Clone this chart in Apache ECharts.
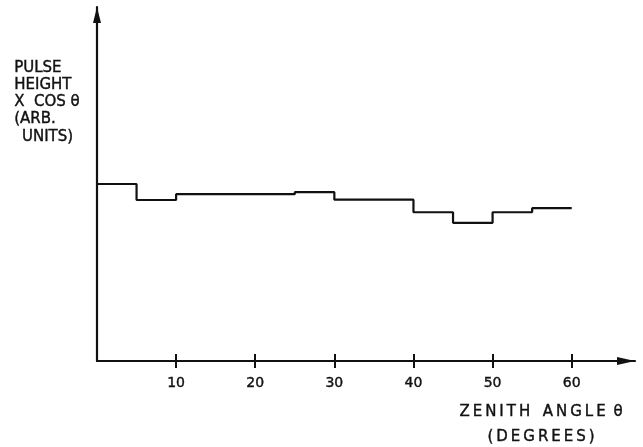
<!DOCTYPE html>
<html>
<head>
<meta charset="utf-8">
<script src="https://cdn.jsdelivr.net/npm/echarts@6/dist/echarts.min.js"></script>
<style>html,body{margin:0;padding:0;background:#fff}#c{width:643px;height:447px}</style>
</head>
<body>
<div id="c"></div>
<script>
// Data (arbitrary units)
var binEdges = [0, 5, 10, 25, 30, 40, 45, 50, 55, 60];
var heights = [52.0, 47.3, 49.0, 49.6, 47.4, 43.7, 40.6, 43.7, 44.9];
var xTicks = [10, 20, 30, 40, 50, 60];
var yLabelLines = ['PULSE', 'HEIGHT', 'X  COS θ', '(ARB.', ' \u2009UNITS)'];
var xNameLines = ['Z\u2009E\u2009N\u2009I\u2009T\u2009H  \u2009A\u2009N\u2009G\u2009L\u2009E \u2009θ', '(\u2009D\u2009E\u2009G\u2009R\u2009E\u2009E\u2009S\u2009)'];

// histogram outline built from the bins
var pts = [];
for (var i = 0; i < heights.length; i++) {
  pts.push([binEdges[i], heights[i]]);
  pts.push([binEdges[i + 1], heights[i]]);
}

var font = 'DejaVu Sans';
var ink = '#111';
var txt = { fill: ink, fontFamily: font, fontSize: 15, stroke: ink, lineWidth: 0.4 };
var chart = echarts.init(document.getElementById('c'));
chart.setOption({
  backgroundColor: '#fff',
  animation: false,
  grid: { left: 97, right: 8, top: 7, bottom: 86, containLabel: false },
  xAxis: [{
    type: 'value', min: 0, max: 68, interval: 10,
    axisLine: { show: true, lineStyle: { color: ink, width: 2.2 }, symbol: ['none', 'triangle'], symbolSize: [8, 18], symbolOffset: [0, -9] },
    axisTick: { show: true, inside: false, length: 7, lineStyle: { color: ink, width: 2 }, customValues: xTicks },
    axisLabel: { show: true, color: ink, fontFamily: font, fontSize: 14, margin: 15, customValues: xTicks, textBorderColor: ink, textBorderWidth: 0.4 },
    splitLine: { show: false }
  }, {
    type: 'value', min: 0, max: 68, interval: 10, position: 'bottom',
    axisLine: { show: false },
    axisTick: { show: true, inside: true, length: 7, lineStyle: { color: ink, width: 2 }, customValues: xTicks },
    axisLabel: { show: false },
    splitLine: { show: false }
  }],
  yAxis: {
    type: 'value', min: 0, max: 104,
    axisLine: { show: true, lineStyle: { color: ink, width: 2.2 }, symbol: ['none', 'triangle'], symbolSize: [8, 16], symbolOffset: [0, -8] },
    axisTick: { show: false }, axisLabel: { show: false }, splitLine: { show: false }
  },
  graphic: [{
    type: 'text', left: 14, top: 59,
    style: Object.assign({ text: yLabelLines.join('\n'), lineHeight: 17.3 }, txt)
  }, {
    type: 'text', x: 541, y: 400,
    style: Object.assign({ text: xNameLines.join('\n'), lineHeight: 25, align: 'center', verticalAlign: 'top' }, txt)
  }],
  series: [{
    type: 'line', data: pts, showSymbol: false, symbol: 'none',
    lineStyle: { color: ink, width: 2.2 }, xAxisIndex: 0
  }]
});
</script>
</body>
</html>
